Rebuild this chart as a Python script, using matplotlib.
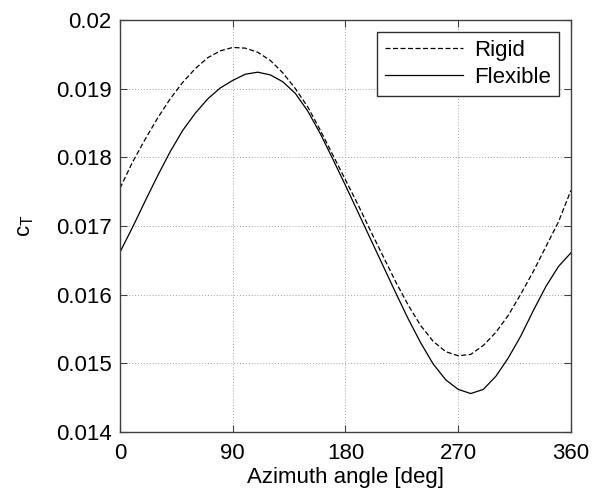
import matplotlib
matplotlib.use("Agg")
import matplotlib.pyplot as plt

# azimuth angle [deg]
azimuth = [0, 10, 20, 30, 40, 50, 60, 70, 80, 90, 100, 110, 120, 130, 140,
           150, 160, 170, 180, 190, 200, 210, 220, 230, 240, 250, 260, 270,
           280, 290, 300, 310, 320, 330, 340, 350, 360]

# thrust coefficient
ct_rigid = [0.01755, 0.01793, 0.01826, 0.01857, 0.01885, 0.01909, 0.01929,
            0.01945, 0.01955, 0.01960, 0.01959, 0.01953, 0.01941, 0.01923,
            0.01900, 0.01873, 0.01839, 0.01803, 0.01767, 0.01731, 0.01693,
            0.01656, 0.01619, 0.01585, 0.01555, 0.01532, 0.01517, 0.01511,
            0.01513, 0.01526, 0.01545, 0.01570, 0.01601, 0.01634, 0.01670,
            0.01706, 0.01752]
ct_flexible = [0.01662, 0.01698, 0.01736, 0.01773, 0.01808, 0.01839, 0.01864,
               0.01885, 0.01901, 0.01912, 0.01921, 0.01924, 0.01920, 0.01910,
               0.01893, 0.01867, 0.01834, 0.01797, 0.01759, 0.01720, 0.01681,
               0.01642, 0.01603, 0.01565, 0.01530, 0.01499, 0.01476, 0.01462,
               0.01456, 0.01462, 0.01481, 0.01508, 0.01540, 0.01577, 0.01612,
               0.01641, 0.01661]

xticks = [0, 90, 180, 270, 360]
yticks = [0.014, 0.015, 0.016, 0.017, 0.018, 0.019, 0.02]
yticklabels = ['0.014', '0.015', '0.016', '0.017', '0.018', '0.019', '0.02']

plt.rcParams['font.family'] = ['Liberation Sans', 'DejaVu Sans']
plt.rcParams['mathtext.fontset'] = 'custom'
plt.rcParams['mathtext.rm'] = 'Liberation Sans'
plt.rcParams['mathtext.it'] = 'Liberation Sans'

fig = plt.figure(figsize=(5.92, 4.97), dpi=100)
ax = fig.add_axes([0.2027, 0.1308, 0.7618, 0.8290])

ax.plot(azimuth, ct_rigid, color='black', lw=0.9, linestyle=(0, (4, 2)), label='Rigid')
ax.plot(azimuth, ct_flexible, color='black', lw=0.9, label='Flexible')

ax.set_xlim(0, 360)
ax.set_ylim(0.014, 0.02)
ax.set_xticks(xticks)
ax.set_yticks(yticks)
ax.set_yticklabels(yticklabels)
ax.tick_params(direction='in', top=True, right=True, labelsize=16, length=5,
               color='#404040')
ax.tick_params(axis='x', pad=8)
ax.tick_params(axis='y', pad=6)
ax.grid(True, linestyle=(0, (1, 2)), color='#a0a0a0', lw=0.7)
for s in ax.spines.values():
    s.set_color('#404040')
    s.set_linewidth(1.0)

ax.set_xlabel('Azimuth angle [deg]', fontsize=16, labelpad=2)
ax.set_ylabel(r'c$_\mathregular{T}$', fontsize=16, labelpad=14)

leg = ax.legend(loc='upper right', fontsize=16, fancybox=False, framealpha=1,
                edgecolor='#303030', handlelength=3.5, borderaxespad=0.56,
                labelspacing=0.25, handletextpad=0.5, borderpad=0.35)
leg.get_frame().set_linewidth(1.0)

fig.savefig('out.png', dpi=100)
